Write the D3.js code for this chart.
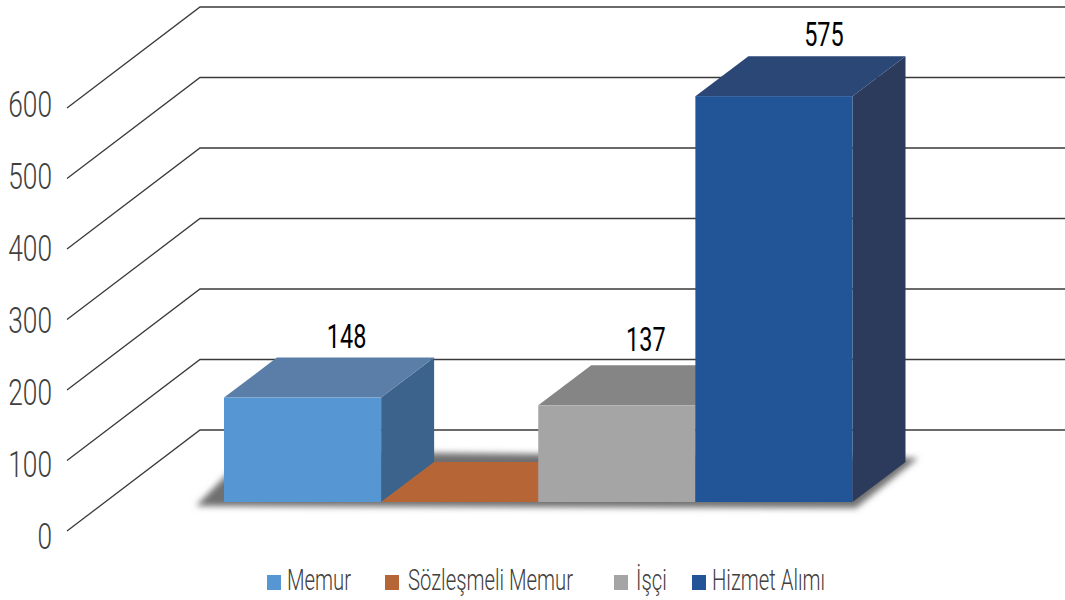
<!DOCTYPE html>
<html>
<head>
<meta charset="utf-8">
<script src="https://cdn.jsdelivr.net/npm/d3@7"></script>
<style>
	body { margin: 0; background: #fff; }
	text { font-family: Roboto, "Liberation Sans", sans-serif; }
</style>
</head>
<body>
<div id="wrapper"></div>
<script>
const categories = ["Memur", "Sözleşmeli Memur", "İşçi", "Hizmet Alımı"];
const values = [148, 0, 137, 575];
const dataLabels = ["148", "", "137", "575"];
const tickValues = [0, 100, 200, 300, 400, 500, 600];

const frontColors = ["#5596d3", "#b66636", "#a5a5a5", "#225598"];
const topColors = ["#5a7ea8", "#b66636", "#858585", "#2a4775"];
const sideColors = ["#3b638c", "#b66636", "#6e6e6e", "#2c3a5c"];

const width = 1065;
const height = 600;

const canvas = d3.select("#wrapper")
	.append("svg")
	.attr("width", width)
	.attr("height", height);

// the three planes of the fake 3d box, all on the same value domain
const yFront = d3.scaleLinear().domain([0, 600]).range([502, 78.5]);
const yLeft = d3.scaleLinear().domain([0, 600]).range([531, 108]);
const yBack = d3.scaleLinear().domain([0, 600]).range([430, 7]);
const yTick = d3.scaleLinear().domain([0, 600]).range([537, 105]);
const xBars = d3.scaleBand().domain(categories).range([224, 852.5]);

const depthX = 53;
const depthY = 40;
const line = d3.line();

// gridlines, side wall then back wall
canvas.append("g").selectAll("path")
	.data(tickValues)
	.enter().append("path")
	.attr("d", function(d) {
		return line([[67, yLeft(d)], [200, yBack(d)], [1065, yBack(d)]]);
	})
	.attr("fill", "none")
	.attr("stroke", "#3a3a3a")
	.attr("stroke-width", 1.3);

// floor shadow
const defs = canvas.append("defs");
defs.append("filter").attr("id", "soft")
	.attr("x", "-5%").attr("y", "-20%").attr("width", "110%").attr("height", "140%")
	.append("feGaussianBlur").attr("stdDeviation", 3);

canvas.append("path")
	.attr("d", line([[196, 506], [250, 451], [918, 458], [856, 508]]) + "Z")
	.attr("fill", "#6f6f6f")
	.attr("filter", "url(#soft)");

// axis labels
const axis = canvas.append("g")
	.attr("transform", "translate(52,0)")
	.call(d3.axisLeft(yTick).tickValues(tickValues).tickSize(0).tickPadding(0).tickFormat(d3.format("d")));
axis.select(".domain").remove();
axis.selectAll("text")
	.attr("transform", "scale(0.73,1)")
	.style("font-family", "Roboto, sans-serif")
	.style("font-size", "36px")
	.style("font-weight", 300)
	.attr("fill", "#404040");

// bars, left to right so the later ones cover the earlier ones
const bars = canvas.append("g").selectAll("g")
	.data(categories)
	.enter().append("g");

bars.append("path")
	.attr("d", function(d, i) {
		const x1 = xBars(d) + xBars.bandwidth();
		return line([[x1, yFront(values[i])], [x1 + depthX, yFront(values[i]) - depthY], [x1 + depthX, yFront(0) - depthY], [x1, yFront(0)]]) + "Z";
	})
	.attr("fill", function(d, i) { return sideColors[i]; });

bars.append("path")
	.attr("d", function(d, i) {
		const x0 = xBars(d);
		const x1 = x0 + xBars.bandwidth();
		const y = yFront(values[i]);
		return line([[x0, y], [x0 + depthX, y - depthY], [x1 + depthX, y - depthY], [x1, y]]) + "Z";
	})
	.attr("fill", function(d, i) { return topColors[i]; });

bars.append("rect")
	.attr("x", function(d) { return xBars(d); })
	.attr("y", function(d, i) { return yFront(values[i]); })
	.attr("width", xBars.bandwidth())
	.attr("height", function(d, i) { return yFront(0) - yFront(values[i]); })
	.attr("fill", function(d, i) { return frontColors[i]; });

// value labels sit over the back edge of the top face
const labelShift = [44, 0, 29, 50];
canvas.append("g").selectAll("text")
	.data(categories)
	.enter().append("text")
	.attr("transform", function(d, i) {
		const x = xBars(d) + xBars.bandwidth() / 2 + labelShift[i];
		const y = d3.min([yFront(values[i]) - depthY - 10, 351]);
		return "translate(" + x + "," + y + ") scale(0.69,1)";
	})
	.attr("text-anchor", "middle")
	.style("font-size", "34px")
	.style("font-weight", 400)
	.attr("fill", "#000")
	.text(function(d, i) { return dataLabels[i]; });

// legend
const legendSwatch = [267, 385, 614, 692];
const legendText = [287, 408, 636, 712];
const legend = canvas.append("g").selectAll("g")
	.data(categories)
	.enter().append("g");

legend.append("rect")
	.attr("x", function(d, i) { return legendSwatch[i]; })
	.attr("y", 575)
	.attr("width", 14)
	.attr("height", 15)
	.attr("fill", function(d, i) { return frontColors[i]; });

legend.append("text")
	.attr("transform", function(d, i) { return "translate(" + legendText[i] + ",590) scale(0.70,1)"; })
	.style("font-size", "29px")
	.style("font-weight", 300)
	.attr("fill", "#404040")
	.text(function(d) { return d; });
</script>
</body>
</html>
